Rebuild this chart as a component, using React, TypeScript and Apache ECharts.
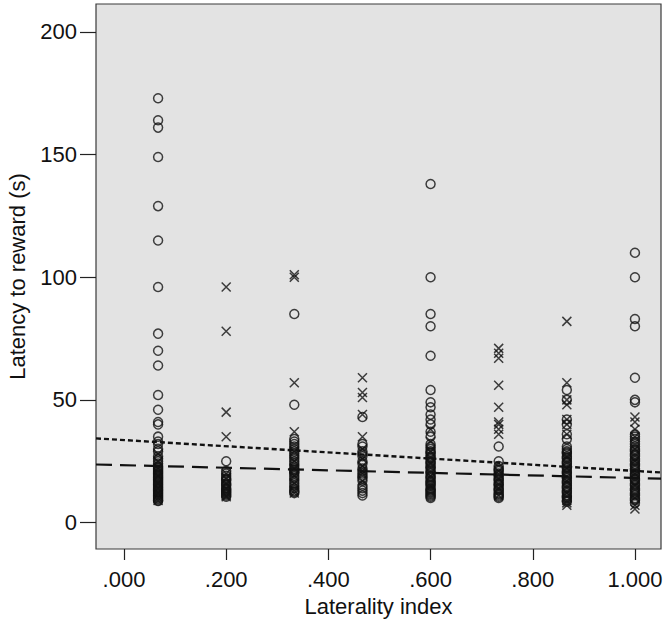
import React, { useEffect, useRef } from "react";
import * as echarts from "echarts";

// Column positions on the laterality index axis
const columnX: number[] = [0.0667, 0.2, 0.3333, 0.4667, 0.6, 0.7333, 0.8667, 1.0];

// Latency values (s) drawn with circles, per column
const circleCol1: number[] = [173, 164, 161, 149, 129, 115, 96, 77, 70, 64, 52, 46, 41, 40, 35, 33, 32, 30, 29, 27, 26, 25, 24, 23, 22.5, 22, 21.5, 21, 20.5, 20, 19.5, 19, 18.5, 18, 17.5, 17, 16.5, 16, 15.5, 15, 14.5, 14, 13.5, 13, 12.5, 12, 11.5, 11, 10.5, 10, 9.5, 9, 8.8];
const circleCol2: number[] = [25, 21, 20, 19, 18, 17.5, 17, 16, 15.5, 15, 14, 13.5, 13, 12.5, 12, 11.5, 11, 10.5];
const circleCol3: number[] = [85, 48, 34, 33, 32, 31, 30, 29, 28, 27, 26, 25, 24, 23, 22, 21.5, 21, 20.5, 20, 19, 18, 17, 16, 15, 14, 13, 12.5, 12];
const circleCol4: number[] = [43, 32, 31, 29, 28, 27, 25, 24, 22, 21, 20, 19, 18, 17, 15, 14, 13, 12, 11];
const circleCol5: number[] = [138, 100, 85, 80, 68, 54, 49, 47, 44, 42, 40, 37, 35, 32, 31, 30, 29, 28.5, 28, 27, 26.5, 26, 25, 24.5, 24, 23, 22.5, 22, 21, 20.5, 20, 19, 18.5, 18, 17, 16.5, 16, 15.5, 15, 14, 13.5, 13, 12.5, 12, 11.5, 11, 10.5, 10];
const circleCol6: number[] = [31, 25, 23, 22, 21.5, 21, 20, 19.5, 19, 18, 17.5, 17, 16, 15.5, 15, 14, 13.5, 13, 12, 11.5, 11, 10.5, 10];
const circleCol7: number[] = [54, 50, 42, 40, 36, 34, 31, 30, 29, 28.5, 28, 27, 26.5, 26, 25, 24.5, 24, 23, 22.5, 22, 21, 20.5, 20, 19, 18.5, 18, 17, 16.5, 16, 15, 14.5, 14, 13, 12.5, 12, 11, 10.5, 10, 9, 8.5];
const circleCol8: number[] = [110, 100, 83, 80, 59, 50, 49, 36, 35, 34, 33, 32, 31, 30, 29.5, 29, 28, 27.5, 27, 26, 25.5, 25, 24, 23.5, 23, 22, 21.5, 21, 20, 19.5, 19, 18, 17.5, 17, 16, 15.5, 15, 14, 13.5, 13, 12, 11.5, 11, 10, 9.5, 9, 8];

// Latency values (s) drawn with crosses, per column
const crossCol1: number[] = [28, 25, 22, 19, 16, 14, 12, 10, 9];
const crossCol2: number[] = [96, 78, 45, 35, 20, 18, 16, 14, 12, 11, 10.5];
const crossCol3: number[] = [101, 100, 57, 37, 29, 25, 22, 19, 16, 13, 12];
const crossCol4: number[] = [59, 53, 51, 44, 35, 30, 26, 23, 21, 20, 17];
const crossCol5: number[] = [38, 33, 29, 24, 19, 15];
const crossCol6: number[] = [71, 69, 67, 56, 47, 41, 40, 38, 36, 21, 18, 14, 11];
const crossCol7: number[] = [82, 57, 50, 48, 42, 40, 36, 27, 22, 17, 12, 9, 8, 7];
const crossCol8: number[] = [43, 41, 38, 35, 30, 25, 20, 15, 10, 7, 5.5];

// Fit lines (values at the left and right ends of the x range)
const xRange: number[] = [-0.0548, 1.051];
const shortDashFit: number[] = [34.3, 20.4];
const longDashFit: number[] = [23.65, 17.9];

// Axis ranges and ticks
const yRange: number[] = [-10.8, 211.4];
const yTicks: number[] = [0, 50, 100, 150, 200];
const xTicks: number[] = [0, 0.2, 0.4, 0.6, 0.8, 1.0];

const circleCols = [circleCol1, circleCol2, circleCol3, circleCol4, circleCol5, circleCol6, circleCol7, circleCol8];
const crossCols = [crossCol1, crossCol2, crossCol3, crossCol4, crossCol5, crossCol6, crossCol7, crossCol8];

const toPoints = (cols: number[][]) =>
  cols.flatMap((vals, i) => vals.map((v) => [columnX[i], v]));

const FONT = "'Liberation Sans', Arial, sans-serif";

export default function App() {
  const ref = useRef<HTMLDivElement>(null);
  useEffect(() => {
    if (!ref.current) return;
    const chart = echarts.init(ref.current, null, { renderer: "svg" });
    chart.setOption({
      animation: false,
      backgroundColor: "#ffffff",
      grid: {
        left: 96,
        top: 4,
        width: 565,
        height: 545,
        outerBoundsMode: "none",
        show: true,
        backgroundColor: "#e3e3e3",
        borderColor: "#3a3a3a",
        borderWidth: 1.2,
      },
      xAxis: {
        type: "value",
        min: xRange[0],
        max: xRange[1],
        axisLine: { show: false, onZero: false },
        splitLine: { show: false },
        axisTick: {
          show: true,
          inside: false,
          length: 11,
          customValues: xTicks,
          lineStyle: { color: "#222", width: 1.2 },
        },
        axisLabel: {
          customValues: xTicks,
          margin: 19,
          fontSize: 22,
          fontFamily: FONT,
          color: "#111",
          formatter: (v: number) => v.toFixed(3).replace(/^0/, ""),
        },
        name: "Laterality index",
        nameLocation: "middle",
        nameGap: 46,
        nameTextStyle: { fontSize: 22, fontFamily: FONT, color: "#111" },
      },
      yAxis: {
        type: "value",
        min: yRange[0],
        max: yRange[1],
        axisLine: { show: false, onZero: false },
        splitLine: { show: false },
        axisTick: {
          show: true,
          inside: false,
          length: 16,
          customValues: yTicks,
          lineStyle: { color: "#222", width: 1.2 },
        },
        axisLabel: {
          customValues: yTicks,
          margin: 19,
          fontSize: 22,
          fontFamily: FONT,
          color: "#111",
          formatter: (v: number) => String(v),
        },
        name: "Latency to reward (s)",
        nameLocation: "middle",
        nameGap: 68,
        nameTextStyle: { fontSize: 22, fontFamily: FONT, color: "#111" },
      },
      series: [
        {
          type: "scatter",
          data: toPoints(circleCols),
          symbol: "circle",
          symbolSize: 9,
          itemStyle: { color: "transparent", borderColor: "#111", borderWidth: 1.5 },
          silent: true,
        },
        {
          type: "scatter",
          data: toPoints(crossCols),
          symbol: "path://M0,0L10,10M0,10L10,0",
          symbolSize: 9,
          itemStyle: { color: "transparent", borderColor: "#111", borderWidth: 1.5 },
          silent: true,
        },
        {
          type: "line",
          data: [[xRange[0], shortDashFit[0]], [xRange[1], shortDashFit[1]]],
          symbol: "none",
          lineStyle: { color: "#111", width: 2.4, type: [5, 3] },
          silent: true,
        },
        {
          type: "line",
          data: [[xRange[0], longDashFit[0]], [xRange[1], longDashFit[1]]],
          symbol: "none",
          lineStyle: { color: "#111", width: 2.2, type: [16, 8] },
          silent: true,
        },
      ],
    });
    return () => chart.dispose();
  }, []);
  return (
    <div
      ref={ref}
      style={{ position: "fixed", left: 0, top: 0, width: 666, height: 628 }}
    />
  );
}
